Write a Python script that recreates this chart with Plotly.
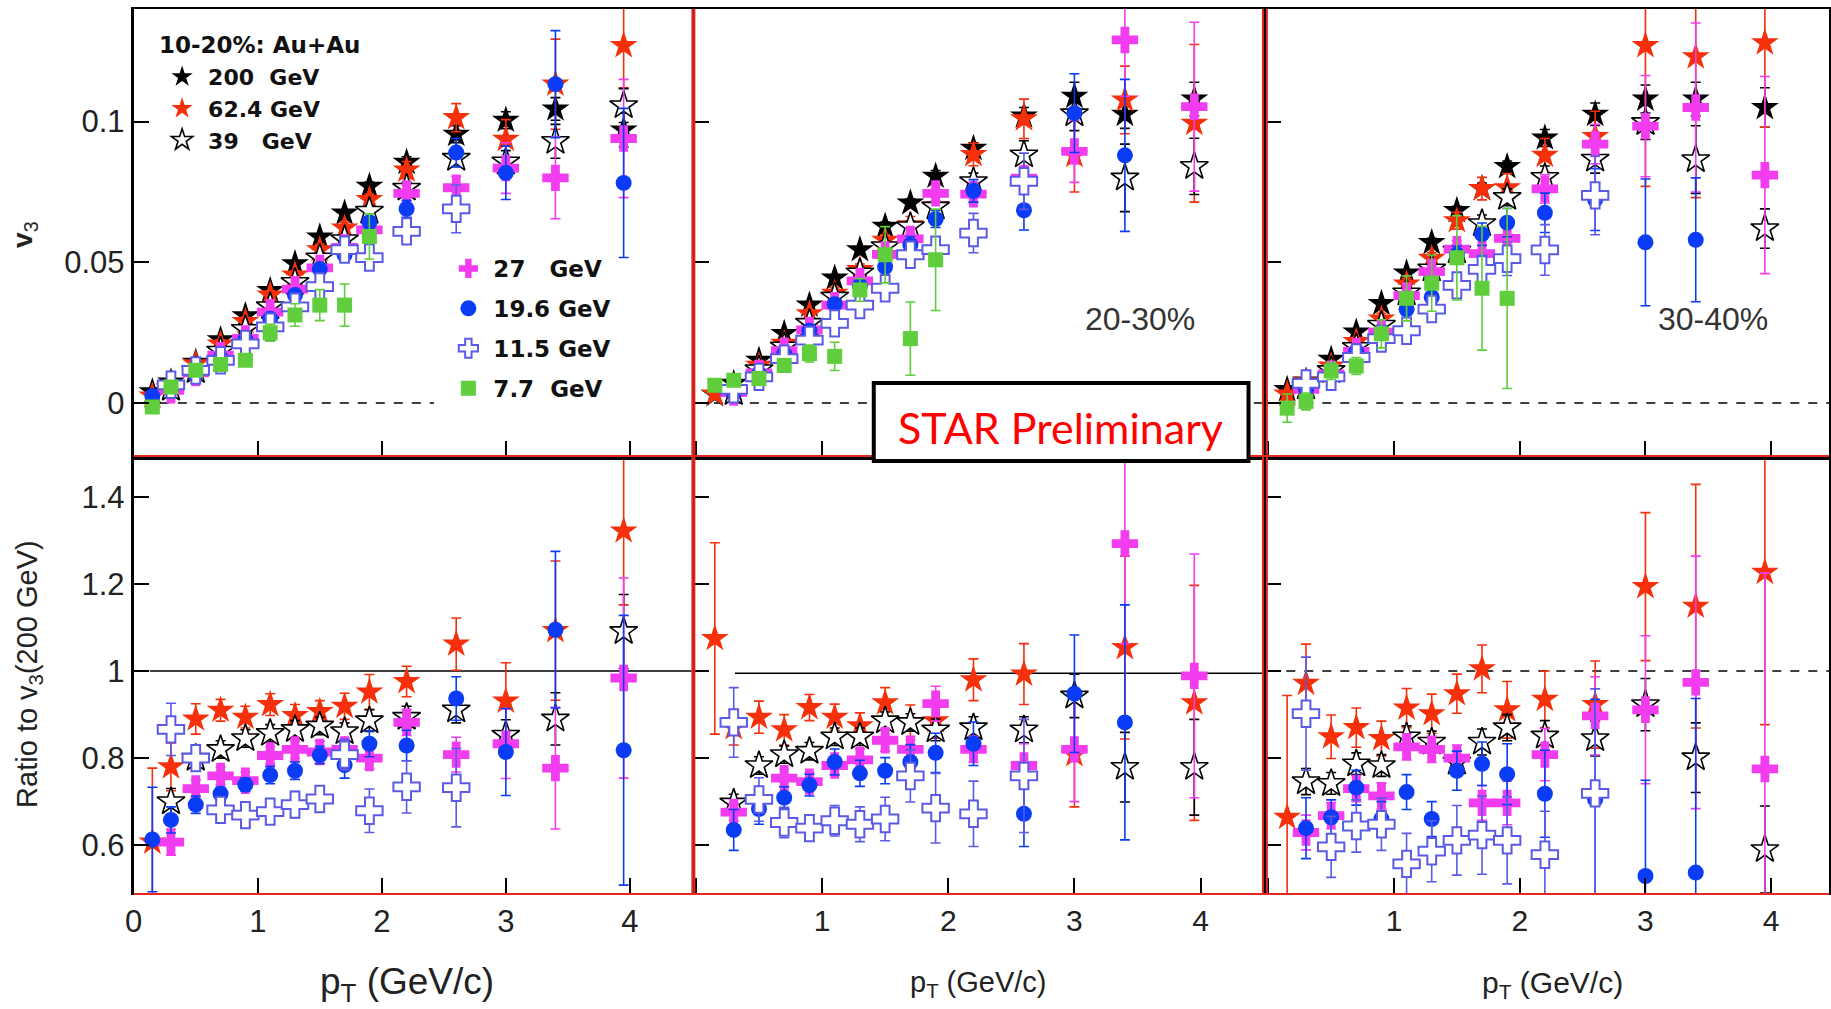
import plotly.graph_objects as go

W, H = 1831, 1009

# pT bin centres (GeV/c)
PT = [0.15, 0.3, 0.5, 0.7, 0.9, 1.1, 1.3, 1.5, 1.7, 1.9, 2.2, 2.6, 3.0, 3.4, 3.95]

ENERGIES = ["200", "62.4", "39", "27", "19.6", "11.5", "7.7"]
CENTRALITIES = ["10-20%", "20-30%", "30-40%"]

# ---------------- v3 values, 10-20% ----------------
v200_c1 = [0.004, 0.0075, 0.0145, 0.0225, 0.031, 0.040, 0.0495, 0.059, 0.0675, 0.077, 0.0855, 0.0955, 0.1005, 0.1045, 0.097]
v624_c1 = [0.0025, 0.0059, 0.014, 0.021, 0.029, 0.0384, 0.0455, 0.0545, 0.0622, 0.0723, 0.0828, 0.1014, 0.0937, 0.1133, 0.127]
v39_c1 = [None, 0.0053, 0.0116, 0.0185, 0.0262, 0.0343, 0.0429, 0.0516, 0.0581, 0.0682, 0.0764, 0.087, 0.0857, 0.093, 0.1057]
v27_c1 = [None, 0.0045, 0.0107, 0.017, 0.023, 0.0323, 0.0405, 0.048, 0.0553, 0.0615, 0.0745, 0.0765, 0.0835, 0.080, 0.094]
v196_c1 = [0.0025, 0.005, 0.010, 0.016, 0.0225, 0.030, 0.0384, 0.0476, 0.0527, 0.0642, 0.069, 0.089, 0.0818, 0.1133, 0.0782]
v115_c1 = [None, 0.0065, 0.0116, 0.0152, 0.021, 0.0271, 0.0342, 0.0414, 0.0545, 0.0517, 0.061, 0.069, None, None, None]
v77_c1 = [-0.0014, 0.0057, 0.0117, 0.0137, 0.0152, 0.025, 0.0313, 0.0348, 0.0348, 0.0592, None, None, None, None, None]

e200_c1 = [0.001, 0.001, 0.001, 0.001, 0.001, 0.001, 0.001, 0.001, 0.001, 0.0015, 0.002, 0.003, 0.003, 0.004, 0.006]
e624_c1 = [0.001, 0.001, 0.001, 0.0015, 0.0015, 0.0015, 0.0015, 0.002, 0.002, 0.002, 0.003, 0.005, 0.007, 0.016, 0.015]
e39_c1 = [None, 0.001, 0.001, 0.001, 0.001, 0.001, 0.0015, 0.0015, 0.0015, 0.002, 0.002, 0.003, 0.004, 0.006, 0.006]
e27_c1 = [None, 0.001, 0.001, 0.001, 0.001, 0.0015, 0.0015, 0.0015, 0.002, 0.002, 0.003, 0.004, 0.009, 0.0145, 0.021]
e196_c1 = [0.001, 0.001, 0.001, 0.001, 0.001, 0.0015, 0.0015, 0.0015, 0.002, 0.002, 0.003, 0.005, 0.0095, 0.019, 0.0265]
e115_c1 = [None, 0.001, 0.001, 0.0015, 0.0015, 0.0015, 0.002, 0.002, 0.002, 0.003, 0.004, 0.0085, None, None, None]
e77_c1 = [0.002, 0.002, 0.002, 0.002, 0.002, 0.003, 0.004, 0.0055, 0.0075, 0.008, None, None, None, None, None]

# ---------------- v3 values, 20-30% ----------------
v200_c2 = [0.003, 0.007, 0.0152, 0.0247, 0.0348, 0.0444, 0.0545, 0.0628, 0.0711, 0.0806, 0.0905, 0.102, 0.109, 0.1026, 0.108]
v624_c2 = [0.0032, 0.0048, 0.0134, 0.0212, 0.0317, 0.039, 0.0474, 0.0578, 0.0633, 0.0701, 0.0883, 0.101, 0.088, 0.1077, 0.0994]
v39_c2 = [None, 0.0038, 0.0119, 0.020, 0.0284, 0.0377, 0.0463, 0.0556, 0.0627, 0.0697, 0.0787, 0.0882, 0.1028, 0.080, 0.0841]
v27_c2 = [None, 0.0037, 0.0107, 0.0186, 0.026, 0.0348, 0.0434, 0.0528, 0.0583, 0.0745, 0.0742, 0.0799, 0.0894, 0.129, 0.1053]
v196_c2 = [None, 0.0035, 0.0104, 0.0175, 0.0257, 0.0351, 0.0417, 0.0484, 0.0562, 0.0654, 0.0754, 0.0685, 0.103, 0.088, None]
v115_c2 = [None, 0.0049, 0.0093, 0.0158, 0.0224, 0.0283, 0.0348, 0.0408, 0.0527, 0.0545, 0.0604, 0.0788, None, None, None]
v77_c2 = [0.0063, 0.0081, 0.0087, 0.0134, 0.0176, 0.0166, 0.0402, 0.0527, 0.0229, 0.0509, None, None, None, None, None]

e200_c2 = [0.001, 0.001, 0.001, 0.001, 0.001, 0.001, 0.001, 0.0015, 0.0015, 0.002, 0.002, 0.003, 0.005, 0.005, 0.006]
e624_c2 = [0.001, 0.001, 0.0015, 0.0015, 0.0015, 0.002, 0.002, 0.002, 0.003, 0.003, 0.004, 0.007, 0.013, 0.012, 0.028]
e39_c2 = [None, 0.001, 0.001, 0.001, 0.001, 0.0015, 0.0015, 0.002, 0.002, 0.002, 0.003, 0.005, 0.006, 0.012, 0.010]
e27_c2 = [None, 0.001, 0.001, 0.001, 0.0015, 0.0015, 0.002, 0.002, 0.002, 0.003, 0.003, 0.004, 0.011, 0.020, 0.030]
e196_c2 = [None, 0.001, 0.001, 0.0015, 0.0015, 0.002, 0.002, 0.002, 0.003, 0.003, 0.004, 0.007, 0.014, 0.027, None]
e115_c2 = [None, 0.001, 0.0015, 0.0015, 0.002, 0.002, 0.002, 0.003, 0.003, 0.004, 0.007, 0.010, None, None, None]
e77_c2 = [0.002, 0.002, 0.002, 0.002, 0.003, 0.005, 0.004, 0.010, 0.013, 0.018, None, None, None, None, None]

# ---------------- v3 values, 30-40% ----------------
v200_c3 = [0.0048, 0.0078, 0.0156, 0.0252, 0.0354, 0.0462, 0.057, 0.0684, 0.0762, 0.084, 0.0942, 0.1026, 0.108, 0.108, 0.105]
v624_c3 = [0.0032, 0.0076, 0.0132, 0.0219, 0.0299, 0.0423, 0.0514, 0.0648, 0.0762, 0.0765, 0.088, 0.0947, 0.127, 0.123, 0.128]
v39_c3 = [None, 0.0058, 0.0116, 0.0198, 0.0277, 0.0392, 0.0477, 0.0541, 0.0638, 0.0731, 0.0802, 0.0867, 0.0997, 0.0865, 0.062]
v27_c3 = [None, 0.0049, 0.0104, 0.0184, 0.0252, 0.0382, 0.0467, 0.0547, 0.0531, 0.0585, 0.0761, 0.092, 0.0984, 0.105, 0.081]
v196_c3 = [None, 0.005, 0.0104, 0.0184, 0.0234, 0.0333, 0.0376, 0.0527, 0.060, 0.0641, 0.0676, 0.0723, 0.0571, 0.058, None]
v115_c3 = [None, 0.007, 0.0093, 0.0162, 0.0229, 0.0257, 0.0334, 0.0418, 0.0475, 0.0513, 0.0544, 0.0738, None, None, None]
v77_c3 = [-0.0018, 0.0006, 0.0114, 0.0132, 0.0246, 0.0372, 0.0426, 0.0516, 0.0408, 0.0372, None, None, None, None, None]

e200_c3 = [0.001, 0.001, 0.001, 0.001, 0.001, 0.001, 0.0015, 0.0015, 0.002, 0.002, 0.003, 0.004, 0.005, 0.006, 0.007]
e624_c3 = [0.001, 0.001, 0.0015, 0.0015, 0.002, 0.002, 0.002, 0.003, 0.004, 0.005, 0.006, 0.009, 0.050, 0.050, 0.030]
e39_c3 = [None, 0.001, 0.001, 0.0015, 0.0015, 0.002, 0.002, 0.002, 0.003, 0.003, 0.004, 0.005, 0.006, 0.012, 0.007]
e27_c3 = [None, 0.001, 0.0015, 0.0015, 0.002, 0.002, 0.002, 0.003, 0.003, 0.004, 0.005, 0.007, 0.018, 0.030, 0.035]
e196_c3 = [None, 0.001, 0.0015, 0.0015, 0.002, 0.002, 0.003, 0.003, 0.004, 0.005, 0.007, 0.011, 0.0225, 0.022, None]
e115_c3 = [None, 0.0015, 0.0015, 0.002, 0.002, 0.003, 0.003, 0.004, 0.005, 0.006, 0.009, 0.014, None, None, None]
e77_c3 = [0.005, 0.003, 0.003, 0.003, 0.005, 0.008, 0.010, 0.015, 0.022, 0.032, None, None, None, None, None]

# ---------------- ratio to v3(200 GeV), 10-20% ----------------
r624_c1 = [0.607, 0.78, 0.89, 0.91, 0.894, 0.923, 0.898, 0.907, 0.919, 0.952, 0.976, 1.062, 0.931, 1.093, 1.322]
r39_c1 = [None, 0.70, 0.80, 0.82, 0.845, 0.857, 0.866, 0.874, 0.861, 0.886, 0.894, 0.911, 0.853, 0.89, 1.091]
r27_c1 = [None, 0.607, 0.73, 0.759, 0.748, 0.806, 0.82, 0.814, 0.82, 0.80, 0.882, 0.808, 0.833, 0.777, 0.984]
r196_c1 = [0.613, 0.658, 0.693, 0.718, 0.739, 0.761, 0.771, 0.807, 0.784, 0.833, 0.829, 0.937, 0.814, 1.095, 0.818]
r115_c1 = [None, 0.866, 0.80, 0.681, 0.669, 0.677, 0.693, 0.706, 0.808, 0.679, 0.734, 0.732, None, None, None]
er624_c1 = [0.17, 0.055, 0.035, 0.025, 0.025, 0.025, 0.025, 0.025, 0.03, 0.04, 0.035, 0.06, 0.088, 0.16, 0.17]
er39_c1 = [None, 0.03, 0.02, 0.02, 0.02, 0.02, 0.02, 0.02, 0.02, 0.025, 0.025, 0.03, 0.035, 0.06, 0.085]
er27_c1 = [None, 0.03, 0.02, 0.02, 0.02, 0.02, 0.02, 0.025, 0.025, 0.025, 0.03, 0.04, 0.08, 0.14, 0.23]
er196_c1 = [0.12, 0.03, 0.02, 0.015, 0.015, 0.02, 0.02, 0.02, 0.03, 0.03, 0.035, 0.05, 0.10, 0.18, 0.31]
er115_c1 = [None, 0.06, 0.03, 0.025, 0.025, 0.025, 0.03, 0.03, 0.035, 0.05, 0.06, 0.09, None, None, None]

# ---------------- ratio, 20-30% ----------------
r624_c2 = [1.075, 0.87, 0.894, 0.865, 0.916, 0.894, 0.874, 0.927, 0.882, 0.886, 0.98, 0.993, 0.808, 1.054, 0.927]
r39_c2 = [None, 0.697, 0.783, 0.808, 0.816, 0.849, 0.849, 0.886, 0.882, 0.865, 0.87, 0.865, 0.943, 0.779, 0.779]
r27_c2 = [None, 0.676, 0.705, 0.754, 0.746, 0.783, 0.796, 0.841, 0.82, 0.925, 0.82, 0.783, 0.82, 1.293, 0.989]
r196_c2 = [None, 0.635, 0.683, 0.709, 0.738, 0.791, 0.765, 0.771, 0.791, 0.812, 0.833, 0.672, 0.948, 0.882, None]
r115_c2 = [None, 0.882, 0.705, 0.652, 0.639, 0.656, 0.648, 0.66, 0.759, 0.685, 0.672, 0.759, None, None, None]
er624_c2 = [0.22, 0.04, 0.037, 0.035, 0.03, 0.03, 0.03, 0.035, 0.04, 0.04, 0.048, 0.07, 0.12, 0.21, 0.27]
er39_c2 = [None, 0.02, 0.02, 0.02, 0.02, 0.02, 0.02, 0.02, 0.02, 0.025, 0.025, 0.03, 0.05, 0.08, 0.11]
er27_c2 = [None, 0.02, 0.02, 0.02, 0.02, 0.02, 0.025, 0.025, 0.03, 0.04, 0.03, 0.05, 0.12, 0.23, 0.28]
er196_c2 = [None, 0.047, 0.035, 0.025, 0.025, 0.03, 0.03, 0.03, 0.04, 0.045, 0.05, 0.075, 0.135, 0.27, None]
er115_c2 = [None, 0.08, 0.05, 0.035, 0.03, 0.035, 0.04, 0.05, 0.06, 0.08, 0.075, 0.13, None, None, None]

# ---------------- ratio, 30-40% ----------------
r624_c3 = [0.664, 0.972, 0.849, 0.87, 0.845, 0.915, 0.902, 0.948, 1.005, 0.911, 0.935, 0.923, 1.194, 1.149, 1.227]
r39_c3 = [None, 0.746, 0.742, 0.787, 0.783, 0.849, 0.837, 0.791, 0.837, 0.87, 0.851, 0.845, 0.923, 0.801, 0.59]
r27_c3 = [None, 0.629, 0.668, 0.73, 0.713, 0.826, 0.82, 0.80, 0.697, 0.697, 0.808, 0.897, 0.911, 0.974, 0.775]
r196_c3 = [None, 0.639, 0.664, 0.732, 0.66, 0.722, 0.66, 0.771, 0.787, 0.763, 0.718, 0.705, 0.529, 0.537, None]
r115_c3 = [None, 0.902, 0.596, 0.644, 0.648, 0.557, 0.586, 0.611, 0.623, 0.611, 0.578, 0.719, None, None, None]
er624_c3 = [0.28, 0.09, 0.05, 0.045, 0.04, 0.045, 0.045, 0.045, 0.055, 0.065, 0.065, 0.10, 0.17, 0.28, 0.35]
er39_c3 = [None, 0.03, 0.025, 0.025, 0.025, 0.025, 0.025, 0.025, 0.03, 0.03, 0.035, 0.04, 0.06, 0.08, 0.10]
er27_c3 = [None, 0.04, 0.03, 0.03, 0.03, 0.03, 0.03, 0.03, 0.04, 0.05, 0.06, 0.09, 0.17, 0.29, 0.45]
er196_c3 = [None, 0.07, 0.04, 0.04, 0.04, 0.04, 0.04, 0.045, 0.05, 0.07, 0.10, 0.23, 0.22, 0.40, None]
er115_c3 = [None, 0.13, 0.07, 0.06, 0.06, 0.07, 0.07, 0.08, 0.09, 0.10, 0.10, 0.24, None, None, None]

TOP = {
    "10-20%": {"200": (v200_c1, e200_c1), "62.4": (v624_c1, e624_c1), "39": (v39_c1, e39_c1),
               "27": (v27_c1, e27_c1), "19.6": (v196_c1, e196_c1), "11.5": (v115_c1, e115_c1),
               "7.7": (v77_c1, e77_c1)},
    "20-30%": {"200": (v200_c2, e200_c2), "62.4": (v624_c2, e624_c2), "39": (v39_c2, e39_c2),
               "27": (v27_c2, e27_c2), "19.6": (v196_c2, e196_c2), "11.5": (v115_c2, e115_c2),
               "7.7": (v77_c2, e77_c2)},
    "30-40%": {"200": (v200_c3, e200_c3), "62.4": (v624_c3, e624_c3), "39": (v39_c3, e39_c3),
               "27": (v27_c3, e27_c3), "19.6": (v196_c3, e196_c3), "11.5": (v115_c3, e115_c3),
               "7.7": (v77_c3, e77_c3)},
}
RATIO = {
    "10-20%": {"62.4": (r624_c1, er624_c1), "39": (r39_c1, er39_c1), "27": (r27_c1, er27_c1),
               "19.6": (r196_c1, er196_c1), "11.5": (r115_c1, er115_c1)},
    "20-30%": {"62.4": (r624_c2, er624_c2), "39": (r39_c2, er39_c2), "27": (r27_c2, er27_c2),
               "19.6": (r196_c2, er196_c2), "11.5": (r115_c2, er115_c2)},
    "30-40%": {"62.4": (r624_c3, er624_c3), "39": (r39_c3, er39_c3), "27": (r27_c3, er27_c3),
               "19.6": (r196_c3, er196_c3), "11.5": (r115_c3, er115_c3)},
}

LABELS = {"200": "<b>200\u00a0\u00a0GeV</b>", "62.4": "<b>62.4 GeV</b>", "39": "<b>39\u00a0\u00a0\u00a0GeV</b>",
          "27": "<b>27\u00a0\u00a0\u00a0GeV</b>", "19.6": "<b>19.6 GeV</b>", "11.5": "<b>11.5 GeV</b>",
          "7.7": "<b>7.7\u00a0\u00a0GeV</b>"}
LEGEND_OF = {"200": "legend", "62.4": "legend", "39": "legend",
             "27": "legend2", "19.6": "legend2", "11.5": "legend2", "7.7": "legend2"}

STYLE = {
    "200": dict(marker=dict(symbol="star", size=21, color="black", line=dict(width=0)), err="black"),
    "62.4": dict(marker=dict(symbol="star", size=21, color="#f5300a", line=dict(width=0)), err="#f5300a"),
    "39": dict(marker=dict(symbol="star", size=21, color="white", line=dict(width=1.6, color="black")), err="black"),
    "27": dict(marker=dict(symbol="cross", size=22, color="#f23cf0", line=dict(width=0)), err="#f23cf0"),
    "19.6": dict(marker=dict(symbol="circle", size=16, color="#0a3cf5", line=dict(width=0)), err="#0a3cf5"),
    "11.5": dict(marker=dict(symbol="cross", size=22, color="white", line=dict(width=2, color="#5a5ae6")), err="#5a5ae6"),
    "7.7": dict(marker=dict(symbol="square", size=15, color="#5fcd3c", line=dict(width=0)), err="#5fcd3c"),
}

FONT = "Liberation Sans, Arial, Helvetica, sans-serif"
LEGFONT = "DejaVu Sans, Liberation Sans, sans-serif"

# geometry in pixels
COLS_PX = [(125.5, 687), (689, 1261), (1265, 1831)]
TOP_PX = (9, 456)
BOT_PX = (460, 893)
XR = [[0, 4.5], [-0.016, 4.49], [-0.015, 4.46]]
YR_TOP = [-0.0188, 0.14]
YR_BOT = [0.49, 1.485]

fig = go.Figure()


def px_x(p):
    return p / W


def px_y(p):
    return 1 - p / H


for ci, cent in enumerate(CENTRALITIES):
    ax_t = ci + 1
    ax_b = ci + 4
    for en in ENERGIES:
        st = STYLE[en]
        y, e = TOP[cent][en]
        fig.add_trace(go.Scatter(
            x=PT, y=y, mode="markers", name=LABELS[en],
            marker=st["marker"],
            error_y=dict(type="data", array=e, color=st["err"], thickness=1.6, width=5),
            xaxis="x" if ax_t == 1 else f"x{ax_t}", yaxis="y" if ax_t == 1 else f"y{ax_t}",
            showlegend=(ci == 0), legend=LEGEND_OF[en], legendgroup=en,
        ))
        if en in RATIO[cent]:
            r, er = RATIO[cent][en]
            fig.add_trace(go.Scatter(
                x=PT, y=r, mode="markers", name=LABELS[en],
                marker=st["marker"],
                error_y=dict(type="data", array=er, color=st["err"], thickness=1.6, width=5),
                xaxis=f"x{ax_b}", yaxis=f"y{ax_b}", showlegend=False, legendgroup=en,
            ))

layout = dict(
    width=W, height=H, margin=dict(l=0, r=0, t=0, b=0),
    paper_bgcolor="white", plot_bgcolor="white",
    font=dict(family=FONT, color="#222", size=30),
)

for ci in range(3):
    x0, x1 = COLS_PX[ci]
    for row in range(2):
        idx = ci + 1 + 3 * row
        xk = "xaxis" if idx == 1 else f"xaxis{idx}"
        yk = "yaxis" if idx == 1 else f"yaxis{idx}"
        ypx = TOP_PX if row == 0 else BOT_PX
        xtxt = ["0", "1", "2", "3", "4"] if ci == 0 else ["", "1", "2", "3", "4"]
        layout[xk] = dict(
            domain=[px_x(x0), min(1.0, px_x(x1))], range=XR[ci],
            anchor="y" if idx == 1 else f"y{idx}",
            showline=True, linecolor="black", linewidth=2, mirror=True,
            ticks="inside", ticklen=15, tickwidth=2, tickcolor="black",
            tickmode="array", tickvals=[0, 1, 2, 3, 4], ticktext=xtxt,
            showticklabels=(row == 1), tickfont=dict(size=31 if ci == 0 else 30, color="#222"),
            showgrid=False, zeroline=False,
        )
        if row == 0:
            yv, yt = [0, 0.05, 0.1], ["0", "0.05", "0.1"]
            yr = YR_TOP
        else:
            yv, yt = [0.6, 0.8, 1.0, 1.2, 1.4], ["0.6", "0.8", "1", "1.2", "1.4"]
            yr = YR_BOT
        layout[yk] = dict(
            domain=[px_y(ypx[1]), px_y(ypx[0])], range=yr,
            anchor="x" if idx == 1 else f"x{idx}",
            showline=True, linecolor="black", linewidth=2 if ci else 3, mirror=True,
            ticks="inside", ticklen=15, tickwidth=2, tickcolor="black",
            tickmode="array", tickvals=yv, ticktext=yt,
            showticklabels=(ci == 0), tickfont=dict(size=31, color="#222"),
            showgrid=False, zeroline=False,
        )

shapes = []
# reference lines (v3 = 0 and ratio = 1)
shapes.append(dict(type="line", xref="x", yref="y", x0=0.21, x1=2.42, y0=0, y1=0,
                   line=dict(color="black", width=1.5, dash="dash"), layer="below"))
shapes.append(dict(type="line", xref="x2", yref="y2", x0=0.0, x1=4.49, y0=0, y1=0,
                   line=dict(color="black", width=1.5, dash="dash"), layer="below"))
shapes.append(dict(type="line", xref="x3", yref="y3", x0=0.0, x1=4.46, y0=0, y1=0,
                   line=dict(color="black", width=1.5, dash="dash"), layer="below"))
shapes.append(dict(type="line", xref="x4", yref="y4", x0=0.13, x1=4.5, y0=1, y1=1,
                   line=dict(color="black", width=1.5), layer="below"))
shapes.append(dict(type="line", xref="x5", yref="y5", x0=0.31, x1=4.49, y0=0.995, y1=0.995,
                   line=dict(color="black", width=1.5), layer="below"))
shapes.append(dict(type="line", xref="x6", yref="y6", x0=0.0, x1=4.46, y0=1.0, y1=1.0,
                   line=dict(color="black", width=1.5, dash="dash"), layer="below"))

RED = "#e8281e"
for ypx in (456, 894):
    shapes.append(dict(type="line", xref="paper", yref="paper", x0=px_x(125.5), x1=1.0,
                       y0=px_y(ypx), y1=px_y(ypx), line=dict(color=RED, width=2)))
for xpx in (687.5, 689.5, 1261.5, 1265.5):
    shapes.append(dict(type="line", xref="paper", yref="paper", x0=px_x(xpx), x1=px_x(xpx),
                       y0=px_y(9), y1=px_y(893), line=dict(color=RED, width=2)))

# STAR Preliminary box
shapes.append(dict(type="rect", xref="paper", yref="paper",
                   x0=px_x(870), x1=px_x(1247), y0=px_y(461), y1=px_y(383),
                   fillcolor="white", line=dict(color="black", width=4), layer="above"))
layout["shapes"] = shapes


def note(text, xp, yp, size, color="#222", angle=0, xanchor="center", family=None):
    f = dict(size=size, color=color)
    if family:
        f["family"] = family
    return dict(text=text, x=px_x(xp), y=px_y(yp), xref="paper", yref="paper",
                xanchor=xanchor, yanchor="middle", textangle=angle, showarrow=False, font=f)


ann = [
    note("STAR Preliminary", 1058, 427, 43, "#ff0000", family="Lato, Open Sans, sans-serif"),
    note("<b>10-20%: Au+Au</b>", 149, 45, 23, "#111", xanchor="left", family=LEGFONT),
    note("20-30%", 1138, 319, 32, "#333"),
    note("30-40%", 1714, 319, 32, "#333"),
    note("<b>v</b><sub>3</sub>", 16, 234, 28, angle=-90),
    note("Ratio to v<sub>3</sub>(200 GeV)", 20, 674, 29, angle=-90),
    note("p<sub>T</sub> (GeV/c)", 400, 984, 37),
    note("p<sub>T</sub> (GeV/c)", 975, 984, 29),
    note("p<sub>T</sub> (GeV/c)", 1553, 984, 30),
]
layout["annotations"] = ann

layout["legend"] = dict(x=px_x(148), y=px_y(56), xanchor="left", yanchor="top",
                        bgcolor="rgba(0,0,0,0)", font=dict(size=22, color="#111", family=LEGFONT),
                        traceorder="normal", itemsizing="trace", itemwidth=42)
layout["legend2"] = dict(x=px_x(437), y=px_y(247), xanchor="left", yanchor="top",
                         bgcolor="rgba(0,0,0,0)", font=dict(size=23, color="#111", family=LEGFONT),
                         traceorder="grouped", tracegroupgap=7, itemsizing="trace", itemwidth=40)

fig.update_layout(**layout)
fig.write_html("out.html", config={"displayModeBar": False},
               post_script="document.body.style.margin='0px';")
